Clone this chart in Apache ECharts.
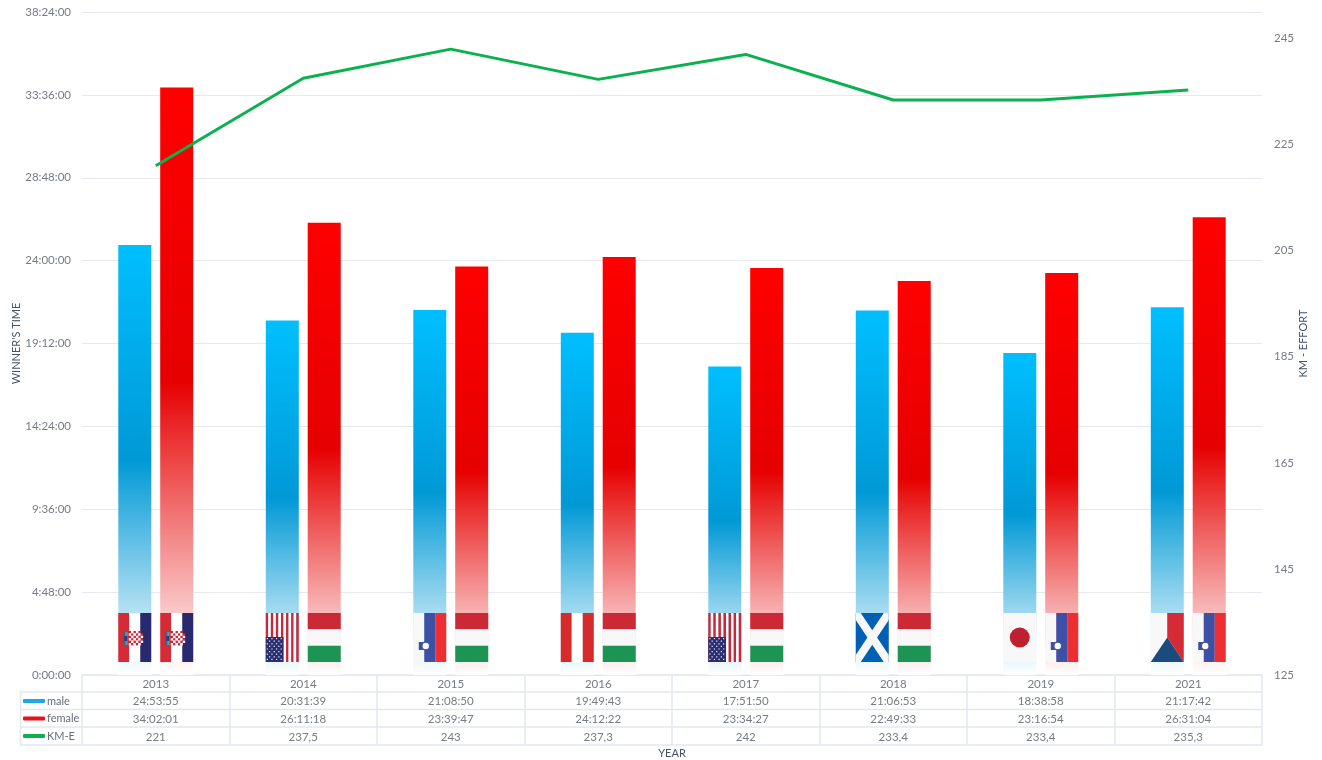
<!DOCTYPE html>
<html>
<head>
<meta charset="utf-8">
<style>html,body{margin:0;padding:0;background:#fff}#chart{width:1322px;height:760px}</style>
<script src="https://cdn.jsdelivr.net/npm/echarts@6/dist/echarts.min.js"></script>
</head>
<body>
<div id="chart"></div>
<script>
const years = ['2013','2014','2015','2016','2017','2018','2019','2021'];
const maleTimes = ['24:53:55','20:31:39','21:08:50','19:49:43','17:51:50','21:06:53','18:38:58','21:17:42'];
const femaleTimes = ['34:02:01','26:11:18','23:39:47','24:12:22','23:34:27','22:49:33','23:16:54','26:31:04'];
const kmEffort = [221,237.5,243,237.3,242,233.4,233.4,235.3];
const maleFlags = ['hr','us','si','at','us','sct','jp','cz'];
const femaleFlags = ['hr','hu','hu','hu','hu','hu','si','si'];
const rightTicks = [125,145,165,185,205,225,245];

const FONT = 'Lato';
const GREY = '#777b84';
const INK = '#44546a';
const RULE = '#e3e7ef';

const toSeconds = s => { const p = s.split(':').map(Number); return p[0]*3600 + p[1]*60 + p[2]; };
const toClock = v => {
  const h = Math.floor(v/3600), m = Math.floor(v%3600/60), s = Math.round(v%60);
  return h + ':' + String(m).padStart(2,'0') + ':' + String(s).padStart(2,'0');
};
const gradient = stops => ({ type:'linear', x:0, y:0, x2:0, y2:1,
  colorStops: stops.map(([offset,color]) => ({offset,color})) });

function rect(x,y,width,height,fill){ return {type:'rect',shape:{x,y,width,height},style:{fill}}; }
function poly(points,fill){ return {type:'polygon',shape:{points},style:{fill}}; }
function circle(cx,cy,r,fill,stroke,lineWidth){
  return {type:'circle',shape:{cx,cy,r},style:{fill,stroke,lineWidth:lineWidth||0}};
}

function flag(code,x,y,w,h){
  const out = [];
  const third = w/3;
  if (code === 'hr') {
    out.push(rect(x,y,third,h,'#d62b36'), rect(x+third,y,third,h,'#ffffff'), rect(x+2*third,y,third,h,'#28296e'));
    const cell = 2.4, cx = x+10.5, cy = y+18;
    for (let r=0;r<6;r++) for (let c=0;c<6;c++) {
      if (c===5 && (r===0||r===5)) continue;
      out.push(rect(cx+c*cell, cy+r*cell, cell, cell, (r+c)%2 ? '#ffffff' : '#d8202f'));
    }
    out.push(rect(x+5.2,y+18,1.8,15,'#3f5f9a'), rect(x+7,y+19,2.4,13,'#45a59b'), rect(x+6,y+23,3,5,'#2a3f78'));
  } else if (code === 'hu') {
    const b = h/3;
    out.push(rect(x,y,w,b,'#cb2936'), rect(x,y+b,w,b,'#f8f8f8'), rect(x,y+2*b,w,b,'#1e9454'));
  } else if (code === 'at') {
    out.push(rect(x,y,third,h,'#d72b2b'), rect(x+third,y,third,h,'#ffffff'), rect(x+2*third,y,third,h,'#d72b2b'));
  } else if (code === 'si') {
    out.push(rect(x,y,third,h,'#f8f8f8'), rect(x+third,y,third,h,'#3e50a5'), rect(x+2*third,y,third,h,'#ee2e31'));
    out.push(rect(x+5.5,y+29,6,8,'#3e50a5'), circle(x+12.5,y+33,3.8,'#ffffff','#3e50a5',1.2));
  } else if (code === 'us') {
    const s = w/13;
    for (let i=0;i<13;i++) out.push(rect(x+i*s,y,s,h, i%2 ? '#ffffff' : '#c9283c'));
    const cw = 7*s, ch = 25, cy = y+h-ch;
    out.push(rect(x,cy,cw,ch,'#2b2f72'));
    for (let r=0;r<9;r++) for (let c=0;c<7;c++) {
      if ((r+c)%2===0) out.push(rect(x+1+c*2.3, cy+1+r*2.6, 1.2, 1.2, '#e8ebf6'));
    }
  } else if (code === 'sct') {
    const d = 5, e = 7;
    out.push(rect(x,y,w,h,'#0060b5'));
    out.push(poly([[x,y],[x+d,y],[x+w,y+h-e],[x+w,y+h],[x+w-d,y+h],[x,y+e]],'#f8f8f8'));
    out.push(poly([[x+w,y],[x+w-d,y],[x,y+h-e],[x,y+h],[x+d,y+h],[x+w,y+e]],'#f8f8f8'));
  } else if (code === 'jp') {
    out.push(rect(x,y,w,h,'#f8f8f8'), circle(x+w/2,y+h/2,10,'#be2030'));
  } else if (code === 'cz') {
    out.push(rect(x,y,w/2,h,'#f8f8f8'));
    out.push(poly([[x+w/2,y],[x+w,y],[x+w,y+h],[x+w/2,y+h/2]],'#d62b36'));
    out.push(poly([[x,y+h],[x+w/2,y+h/2],[x+w,y+h]],'#1b4a7c'));
  }
  return out;
}

function flagSeries(name,codes,offset){
  return {
    name, type:'custom', xAxisIndex:0, yAxisIndex:0, z:4, silent:true, clip:false,
    data: codes.map((c,i) => [i,0]),
    renderItem(params, api){
      const base = api.coord([api.value(0),0]);
      return {type:'group', children: flag(codes[params.dataIndex], base[0]+offset-16.5, base[1]-62, 33, 49)};
    }
  };
}

const tableLabels = years.map((y,i) =>
  [y, maleTimes[i], femaleTimes[i], String(kmEffort[i]).replace('.',',')].join('\n'));

const option = {
  animation:false,
  backgroundColor:'#ffffff',
  textStyle:{fontFamily:FONT},
  grid:{left:82,right:60,top:12,bottom:85,outerBoundsMode:'none'},
  legend:{
    orient:'vertical', left:23, top:695.5, itemWidth:22, itemHeight:4, itemGap:6.5, padding:0,
    icon:'roundRect',
    textStyle:{fontFamily:FONT,fontSize:11,color:'#666c78',padding:[0,0,0,-3]},
    data:[
      {name:'male',itemStyle:{color:'#1fa8e8'}},
      {name:'female',itemStyle:{color:'#e8101c'}},
      {name:'KM-E',itemStyle:{color:'#0cb14f'}}
    ]
  },
  xAxis:{
    type:'category', data:years,
    name:'YEAR', nameLocation:'middle', nameGap:73, nameMoveOverlap:false,
    nameTextStyle:{fontFamily:FONT,fontSize:11,color:INK},
    axisLine:{lineStyle:{color:RULE,width:1.5}},
    axisTick:{show:true,length:70,lineStyle:{color:RULE,width:1.5}},
    axisLabel:{
      interval:0, margin:0, lineHeight:17.7, fontFamily:FONT, fontSize:11.5, color:GREY,
      formatter:(v,i)=>tableLabels[i]
    }
  },
  yAxis:[
    {
      type:'value', min:0, max:toSeconds('38:24:00'), interval:toSeconds('4:48:00'),
      name:"WINNER'S TIME", nameLocation:'middle', nameGap:60, nameRotate:90, nameMoveOverlap:false,
      nameTextStyle:{fontFamily:FONT,fontSize:11,color:INK},
      axisLine:{show:false}, axisTick:{show:false},
      axisLabel:{margin:11,fontFamily:FONT,fontSize:11.5,color:GREY,formatter:toClock},
      splitLine:{lineStyle:{color:'#e6e8ee',width:1}}
    },
    {
      type:'value', min:125, max:250, position:'right',
      name:'KM - EFFORT', nameLocation:'middle', nameGap:36, nameRotate:90, nameMoveOverlap:false,
      nameTextStyle:{fontFamily:FONT,fontSize:11,color:INK},
      axisLine:{show:false}, axisTick:{show:false}, splitLine:{show:false},
      axisLabel:{margin:12,fontFamily:FONT,fontSize:11.5,color:GREY,customValues:rightTicks}
    }
  ],
  graphic:[
    {type:'line',silent:true,shape:{x1:20,y1:692,x2:1262,y2:692},style:{stroke:RULE,lineWidth:1.5}},
    {type:'line',silent:true,shape:{x1:20,y1:709.5,x2:1262,y2:709.5},style:{stroke:RULE,lineWidth:1.5}},
    {type:'line',silent:true,shape:{x1:20,y1:727,x2:1262,y2:727},style:{stroke:RULE,lineWidth:1.5}},
    {type:'line',silent:true,shape:{x1:20,y1:745,x2:1262,y2:745},style:{stroke:RULE,lineWidth:1.5}},
    {type:'line',silent:true,shape:{x1:20.5,y1:692,x2:20.5,y2:745},style:{stroke:RULE,lineWidth:1.5}}
  ],
  series:[
    {
      name:'male', type:'bar', barWidth:33, barGap:'27%', z:2,
      data:maleTimes.map(toSeconds),
      itemStyle:{color:gradient([[0,'#00bfff'],[0.5,'#0099d6'],[1,'#ffffff']])}
    },
    {
      name:'female', type:'bar', barWidth:33, z:2,
      data:femaleTimes.map(toSeconds),
      itemStyle:{color:gradient([[0,'#ff0000'],[0.5,'#e60000'],[1,'#ffffff']])}
    },
    {
      name:'KM-E', type:'line', yAxisIndex:1, z:5, symbol:'none', data:kmEffort,
      lineStyle:{color:'#0cb14f',width:3}, itemStyle:{color:'#0cb14f'}
    },
    flagSeries('male flags',maleFlags,-21),
    flagSeries('female flags',femaleFlags,21)
  ]
};
const chart = echarts.init(document.getElementById('chart'),null,{renderer:'canvas'});
chart.setOption(option);
</script>
</body>
</html>
